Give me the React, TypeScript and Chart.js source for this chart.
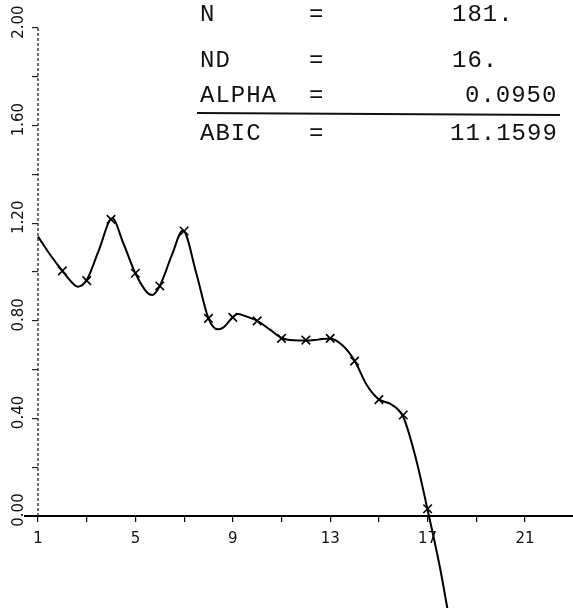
import React, { useEffect, useRef } from "react";
import { Chart, registerables } from "chart.js";

Chart.register(...registerables);

// Observed data marks (x = 2..17)
const markX = [2, 3, 4, 5, 6, 7, 8, 9, 10, 11, 12, 13, 14, 15, 16, 17];
const markY = [1.005, 0.965, 1.216, 0.995, 0.943, 1.168, 0.81, 0.814, 0.8, 0.728, 0.721, 0.728, 0.635, 0.477, 0.414, 0.03];

// Fitted curve
const curveX = [1, 1.5, 2, 2.5, 2.64, 3, 3.5, 4.05, 4.5, 5, 5.5, 5.69, 6, 6.5, 6.95, 7.5, 8, 8.38, 8.6, 9, 9.2, 9.5, 10, 10.5, 11, 11.5, 12, 12.5, 13, 13.5, 14, 14.5, 15, 15.5, 16, 16.5, 17, 17.5, 17.85];
const curveY = [1.145, 1.071, 1.005, 0.947, 0.94, 0.967, 1.09, 1.22, 1.119, 0.995, 0.914, 0.906, 0.943, 1.07, 1.17, 0.995, 0.81, 0.765, 0.772, 0.815, 0.828, 0.82, 0.8, 0.766, 0.73, 0.72, 0.719, 0.723, 0.728, 0.7, 0.637, 0.537, 0.478, 0.458, 0.406, 0.243, 0.025, -0.208, -0.4];

// Axes
const xTickValues = [1, 3, 5, 7, 9, 11, 13, 15, 17, 19, 21];
const xLabelValues = [1, 5, 9, 13, 17, 21];
const yTickValues = [0, 0.2, 0.4, 0.6, 0.8, 1.0, 1.2, 1.4, 1.6, 1.8, 2.0];
const yLabelValues = [0, 0.4, 0.8, 1.2, 1.6, 2.0];
const yLabelTexts = ["0.00", "0.40", "0.80", "1.20", "1.60", "2.00"];

// Statistics block
const statNames = ["N", "ND", "ALPHA", "ABIC"];
const statValues = ["181.", "16.", "0.0950", "11.1599"];

const overlayPlugin = {
  id: "overlay",
  afterDraw(chart: any) {
    const ctx = chart.ctx;
    const xs = chart.scales.x;
    const ys = chart.scales.y;
    ctx.save();
    // vertical axis line from 0 to 2.00
    const ax = xs.getPixelForValue(1);
    ctx.strokeStyle = "#333";
    ctx.lineWidth = 1.4;
    ctx.setLineDash([3, 2]);
    ctx.beginPath();
    ctx.moveTo(ax, ys.getPixelForValue(0));
    ctx.lineTo(ax, ys.getPixelForValue(2));
    ctx.stroke();
    ctx.setLineDash([]);

    // rotated y labels
    ctx.fillStyle = "#111";
    ctx.font = '15px "DejaVu Sans"';
    ctx.textAlign = "center";
    ctx.textBaseline = "middle";
    yLabelValues.forEach((v, i) => {
      const py = ys.getPixelForValue(v) - 6;
      ctx.save();
      ctx.translate(19, py);
      ctx.rotate(-Math.PI / 2);
      ctx.fillText(yLabelTexts[i], 0, 0);
      ctx.restore();
    });

    // statistics text block
    ctx.font = '24px "Liberation Mono"';
    (ctx as any).letterSpacing = "1px";
    ctx.textAlign = "left";
    ctx.textBaseline = "alphabetic";
    const baselines = [21, 67, 102, 140];
    const valueLefts = [452, 452, 465, 450];
    statNames.forEach((name, i) => {
      ctx.fillText(name, 200, baselines[i]);
      ctx.fillText("=", 309, baselines[i]);
      ctx.fillText(statValues[i], valueLefts[i], baselines[i]);
    });
    (ctx as any).letterSpacing = "0px";
    ctx.strokeStyle = "#111";
    ctx.lineWidth = 2;
    ctx.beginPath();
    ctx.moveTo(197, 113);
    ctx.lineTo(560, 115);
    ctx.stroke();
    ctx.restore();
  },
};

export default function App() {
  const ref = useRef<HTMLCanvasElement>(null);
  useEffect(() => {
    if (!ref.current) return;
    const chart = new Chart(ref.current, {
      type: "line",
      data: {
        datasets: [
          {
            label: "fit",
            data: curveX.map((x, i) => ({ x, y: curveY[i] })),
            borderColor: "#000",
            borderWidth: 2,
            pointRadius: 0,
            cubicInterpolationMode: "monotone",
            fill: false,
          },
          {
            label: "obs",
            data: markX.map((x, i) => ({ x, y: markY[i] })),
            showLine: false,
            pointStyle: "crossRot",
            pointRadius: 6,
            pointBorderWidth: 1.6,
            borderColor: "#000",
            backgroundColor: "#000",
          },
        ],
      },
      options: {
        animation: false,
        responsive: false,
        layout: { autoPadding: false, padding: { left: 25, right: 0, top: 0, bottom: 0 } },
        plugins: { legend: { display: false }, tooltip: { enabled: false } },
        scales: {
          x: {
            type: "linear",
            min: 0.466,
            max: 22.97,
            position: { y: 0 } as any,
            border: { display: true, color: "#000", width: 2 },
            grid: { drawOnChartArea: false, drawTicks: true, tickLength: 5, color: "#000", lineWidth: 1.2 },
            afterBuildTicks: (s: any) => {
              s.ticks = xTickValues.map((value) => ({ value }));
            },
            ticks: {
              autoSkip: false,
              maxRotation: 0,
              padding: 9,
              color: "#111",
              font: { family: "DejaVu Sans", size: 15 },
              callback: (v: any) => (xLabelValues.includes(Number(v)) ? String(v) : ""),
            },
          },
          y: {
            type: "linear",
            min: -0.377,
            max: 2.115,
            position: { x: 1 } as any,
            border: { display: false },
            grid: { drawOnChartArea: false, drawTicks: true, tickLength: 6, color: "#222", lineWidth: 1.2 },
            afterBuildTicks: (s: any) => {
              s.ticks = yTickValues.map((value) => ({ value }));
            },
            ticks: { display: false },
          },
        },
      },
      plugins: [overlayPlugin],
    } as any);
    return () => chart.destroy();
  }, []);
  return (
    <div style={{ position: "fixed", left: 0, top: 0, width: 573, height: 608, background: "#fff" }}>
      <canvas ref={ref} width={573} height={608} />
    </div>
  );
}
